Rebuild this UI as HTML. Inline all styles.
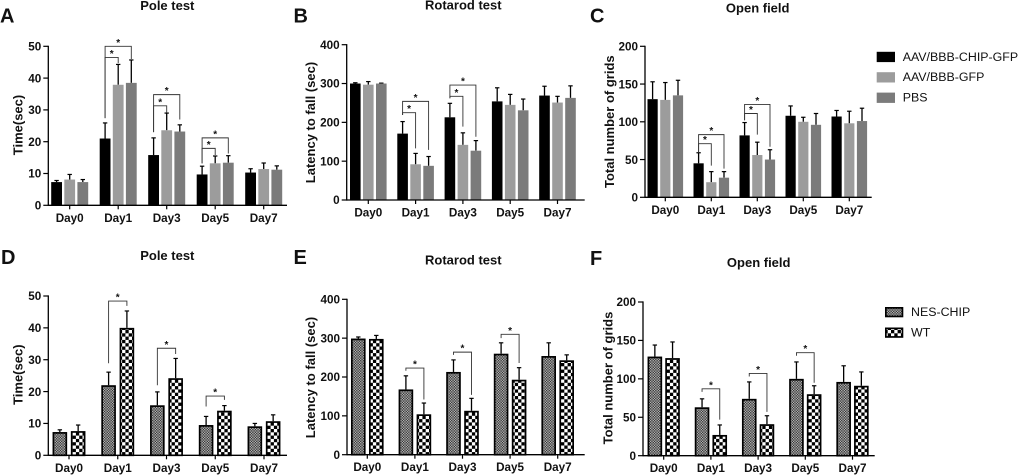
<!DOCTYPE html>
<html lang="en">
<head>
<meta charset="utf-8">
<title>Behavioural test bar charts</title>
<style>
html,body{margin:0;padding:0;background:#fff;width:1020px;height:475px;overflow:hidden}
svg{display:block;font-family:"Liberation Sans",Arial,sans-serif;filter:blur(0.35px)}
</style>
</head>
<body>
<svg id="figure" xmlns="http://www.w3.org/2000/svg" width="1020" height="475" viewBox="0 0 1020 475">
<defs>
<pattern id="fineCheck" width="2.6" height="2.6" patternUnits="userSpaceOnUse">
<rect width="2.6" height="2.6" fill="#b5b5b5"/>
<rect width="1.3" height="1.3" fill="#333"/>
<rect x="1.3" y="1.3" width="1.3" height="1.3" fill="#333"/>
</pattern>
<pattern id="wideCheck" width="6.6" height="6.6" patternUnits="userSpaceOnUse">
<rect width="6.6" height="6.6" fill="#fff"/>
<rect width="3.3" height="3.3" fill="#000"/>
<rect x="3.3" y="3.3" width="3.3" height="3.3" fill="#000"/>
</pattern>
</defs>
</svg>
<script>
const categories = ["Day0","Day1","Day3","Day5","Day7"];

// Panel A: Pole test
const ticksA = [0,10,20,30,40,50];
const aChip = [7.3,21,15.8,9.7,10.3];
const aGfp = [8.1,37.9,23.6,13.2,11.4];
const aPbs = [7.3,38.5,23.2,13.4,11.2];
const aChipErr = [0.5,4.9,5.4,2.6,1.2];
const aGfpErr = [1.6,6.4,5.4,2.3,1.9];
const aPbsErr = [0.8,7.2,2.1,2.2,1.2];
// group, first series, second series, bracket value, left leg end, right leg end
const aBrackets = [[1,0,2,50,27.4,46],[1,0,1,46.5,27.4,44.7],[2,0,2,34.8,23,27],[2,0,1,31.3,23,29.1],[3,0,2,21.2,13.2,16.3],[3,0,1,17.9,13.2,15.8]];

// Panel B: Rotarod test
const ticksB = [0,100,200,300,400];
const bChip = [300,171,213,254,269];
const bGfp = [297,92,142,245,251];
const bPbs = [300,88,127,231,263];
const bChipErr = [2,31,36,35,24];
const bGfpErr = [8,28,31,27,16];
const bPbsErr = [1,24,26,29,31];
const bBrackets = [[1,0,2,254,219,129],[1,0,1,225,219,133],[2,0,2,296,262,163],[2,0,1,267,262,189]];

// Panel C: Open field
const ticksC = [0,50,100,150,200];
const cChip = [130,45,82,108,107];
const cGfp = [129,20,56,100,98];
const cPbs = [135,26,50,96,101];
const cChipErr = [23,14,17,13,8];
const cGfpErr = [23,14,17,6,16];
const cPbsErr = [20,8,13,15,17];
const cBrackets = [[1,0,2,83,60,38],[1,0,1,71,60,42],[2,0,2,123,102,67],[2,0,1,111,102,83]];

// Panel D: Pole test
const ticksD = [0,10,20,30,40,50];
const dNes = [7.3,22,15.7,9.5,9.1];
const dWt = [7.6,40,24.2,14,10.7];
const dNesErr = [0.7,4.1,4.2,2.7,0.9];
const dWtErr = [1.9,5.3,6.2,1.6,2];
const dBrackets = [[1,0,1,48.4,28.9,46.9],[2,0,1,33.6,22,31.8],[3,0,1,18.6,15.3,17.4]];

// Panel E: Rotarod test
const ticksE = [0,100,200,300,400];
const eNes = [299,168,213,260,254];
const eWt = [298,104,113,193,243];
const eNesErr = [4,35,31,28,34];
const eWtErr = [9,29,32,31,14];
const eBrackets = [[1,0,1,223,216,142],[2,0,1,264,257,154],[3,0,1,310,300,236]];

// Panel F: Open field
const ticksF = [0,50,100,150,200];
const fNes = [129,63,74,100,96];
const fWt = [127,27,41,80,91];
const fNesErr = [15,11,22,22,21];
const fWtErr = [21,13,11,11,18];
const fBrackets = [[1,0,1,87,83,47],[2,0,1,107,103,57],[3,0,1,134,130,95]];

const legendTop = ["AAV/BBB-CHIP-GFP","AAV/BBB-GFP","PBS"];
const legendBottom = ["NES-CHIP","WT"];

const svg = document.getElementById('figure');
const NS = 'http://www.w3.org/2000/svg';
const solidBlack = {fill:'#000',stroke:'none'};
const solidLight = {fill:'#9c9c9c',stroke:'none'};
const solidDark = {fill:'#7b7b7b',stroke:'none'};
const fineFill = {fill:'url(#fineCheck)',stroke:'#000'};
const wideFill = {fill:'url(#wideCheck)',stroke:'#000'};

function shape(tag, props, parent){
  const el = document.createElementNS(NS, tag);
  for (const k in props) el.setAttribute(k, props[k]);
  (parent || svg).appendChild(el);
  return el;
}
function label(str, x, y, size, weight, anchor, parent){
  const t = shape('text', {x:x, y:y, 'font-size':size, 'font-weight':weight, 'text-anchor':anchor, fill:'#111'}, parent);
  t.textContent = str;
  return t;
}

function drawPanel(p){
  const g = shape('g', {});
  
  

  const yMax = p.ticks[p.ticks.length - 1];
  const yOf = v => p.y0 - (v / yMax) * (p.y0 - p.yTop);
  const xCenter = i => p.cx0 + i * p.step;
  const xOf = (i, s) => xCenter(i) + (s - (p.series.length - 1) / 2) * p.offset;

  const letter = label(p.letter, p.letterX, p.letterY, 20, 'bold', 'start', g);
  
  

  const title = label(p.title, p.titleX, p.titleY, 13, 'bold', 'middle', g);
  
  

  const yTitle = label(p.yTitle, 0, 0, 13, 'bold', 'middle', g);
  yTitle.setAttribute('transform', 'translate(' + p.yTitleX + ',' + p.yTitleY + ') rotate(-90)');
  
  

  p.series.forEach((vals, s) => {
    vals.forEach((v, i) => {
      const style = p.styles[s];
      const inset = style.stroke === 'none' ? 0 : 0.85;
      const e = p.errors[s][i];
      const cx = xOf(i, s);
      const stem = shape('line', {x1:cx, x2:cx, y1:yOf(v), y2:yOf(v + e), stroke:'#000', 'stroke-width':1.3}, g);
      
      
      const cap = shape('line', {x1:cx - 2.2, x2:cx + 2.2, y1:yOf(v + e), y2:yOf(v + e), stroke:'#000', 'stroke-width':1.2}, g);
      
      
      const bar = shape('rect', {
        x:cx - p.barW / 2 + inset, y:yOf(v) + inset,
        width:p.barW - 2 * inset, height:Math.max(0, p.y0 - yOf(v) - inset),
        fill:style.fill, stroke:style.stroke, 'stroke-width':style.stroke === 'none' ? 0 : 1.7
      }, g);
      
      
    });
  });

  p.brackets.forEach(b => {
    const xa = xOf(b[0], b[1]);
    const xb = xOf(b[0], b[2]);
    const d = 'M' + xa + ' ' + yOf(b[4]) + 'V' + yOf(b[3]) + 'H' + xb + 'V' + yOf(b[5]);
    const br = shape('path', {d:d, fill:'none', stroke:'#333', 'stroke-width':0.9}, g);
    
    
    const star = label('*', (xa + xb) / 2, yOf(b[3]) - 0.5, 10, 'bold', 'middle', g);
    
    
  });

  const yAxis = shape('line', {x1:p.x0, x2:p.x0, y1:p.yTop - 0.6, y2:p.y0 + 0.6, stroke:'#000', 'stroke-width':1.3}, g);
  
  
  const xAxis = shape('line', {x1:p.x0, x2:p.xEnd, y1:p.y0, y2:p.y0, stroke:'#000', 'stroke-width':1.3}, g);
  
  

  p.ticks.forEach(t => {
    const tk = shape('line', {x1:p.x0 - 5, x2:p.x0, y1:yOf(t), y2:yOf(t), stroke:'#000', 'stroke-width':1.2}, g);
    
    
    const tl = label(String(t), p.x0 - 7, yOf(t) + 4.2, 11.7, 'bold', 'end', g);
    
    
  });
  categories.forEach((c, i) => {
    const tk = shape('line', {x1:xCenter(i), x2:xCenter(i), y1:p.y0, y2:p.y0 + 4, stroke:'#000', 'stroke-width':1.2}, g);
    
    
    const tl = label(c, xCenter(i), p.y0 + 16.5, 11.7, 'bold', 'middle', g);
    
    
  });
}

drawPanel({key:'a', letter:'A', letterX:0, letterY:22.7, title:'Pole test', titleX:167.3, titleY:10,
  yTitle:'Time(sec)', yTitleX:22.5, yTitleY:125, x0:48.3, xEnd:287, y0:205.3, yTop:46.3,
  cx0:69.7, step:48.5, offset:13.1, barW:10.8, ticks:ticksA,
  series:[aChip,aGfp,aPbs], errors:[aChipErr,aGfpErr,aPbsErr], brackets:aBrackets,
  styles:[solidBlack,solidLight,solidDark]});

drawPanel({key:'b', letter:'B', letterX:293.5, letterY:22.7, title:'Rotarod test', titleX:463.3, titleY:9.5,
  yTitle:'Latency to fall (sec)', yTitleX:315, yTitleY:122.5, x0:346.7, xEnd:584.7, y0:200, yTop:44.7,
  cx0:368.3, step:47.3, offset:13, barW:10.6, ticks:ticksB,
  series:[bChip,bGfp,bPbs], errors:[bChipErr,bGfpErr,bPbsErr], brackets:bBrackets,
  styles:[solidBlack,solidLight,solidDark]});

drawPanel({key:'c', letter:'C', letterX:590, letterY:22.7, title:'Open field', titleX:757.7, titleY:12.7,
  yTitle:'Total number of grids', yTitleX:614, yTitleY:121.7, x0:645, xEnd:871.7, y0:197.3, yTop:46.3,
  cx0:665.3, step:46, offset:12.7, barW:10.2, ticks:ticksC,
  series:[cChip,cGfp,cPbs], errors:[cChipErr,cGfpErr,cPbsErr], brackets:cBrackets,
  styles:[solidBlack,solidLight,solidDark]});

drawPanel({key:'d', letter:'D', letterX:1, letterY:264, title:'Pole test', titleX:167.3, titleY:260,
  yTitle:'Time(sec)', yTitleX:22.5, yTitleY:374.7, x0:48.3, xEnd:287, y0:455.3, yTop:296,
  cx0:69, step:48.75, offset:18.3, barW:14.6, ticks:ticksD,
  series:[dNes,dWt], errors:[dNesErr,dWtErr], brackets:dBrackets,
  styles:[fineFill,wideFill]});

drawPanel({key:'e', letter:'E', letterX:293.5, letterY:264, title:'Rotarod test', titleX:463.3, titleY:264.7,
  yTitle:'Latency to fall (sec)', yTitleX:315, yTitleY:377.5, x0:347, xEnd:584.7, y0:454.7, yTop:299.3,
  cx0:367.3, step:47.6, offset:18, barW:14.6, ticks:ticksE,
  series:[eNes,eWt], errors:[eNesErr,eWtErr], brackets:eBrackets,
  styles:[fineFill,wideFill]});

drawPanel({key:'f', letter:'F', letterX:590, letterY:265, title:'Open field', titleX:758.7, titleY:267,
  yTitle:'Total number of grids', yTitleX:612.3, yTitleY:378, x0:643, xEnd:874.7, y0:455.7, yTop:302,
  cx0:663.7, step:47.2, offset:17.7, barW:14.6, ticks:ticksF,
  series:[fNes,fWt], errors:[fNesErr,fWtErr], brackets:fBrackets,
  styles:[fineFill,wideFill]});

function drawLegend(name, entries, styles, swatchX, textX, firstY, gap){
  const g = shape('g', {});
  
  
  entries.forEach((txt, i) => {
    const st = styles[i];
    const inset = st.stroke === 'none' ? 0 : 0.85;
    const y = firstY + i * gap;
    const sw = shape('rect', {x:swatchX + inset, y:y + inset, width:18.3 - 2 * inset, height:10.3 - 2 * inset,
      fill:st.fill, stroke:st.stroke, 'stroke-width':st.stroke === 'none' ? 0 : 1.7}, g);
    
    
    const t = label(txt, textX, y + 9, 12.4, 'normal', 'start', g);
    
    
  });
}
drawLegend('legend-top', legendTop, [solidBlack,solidLight,solidDark], 876.7, 902.7, 51.8, 20.4);
drawLegend('legend-bottom', legendBottom, [fineFill,wideFill], 885, 911, 307, 20.5);
</script>
</body>
</html>
